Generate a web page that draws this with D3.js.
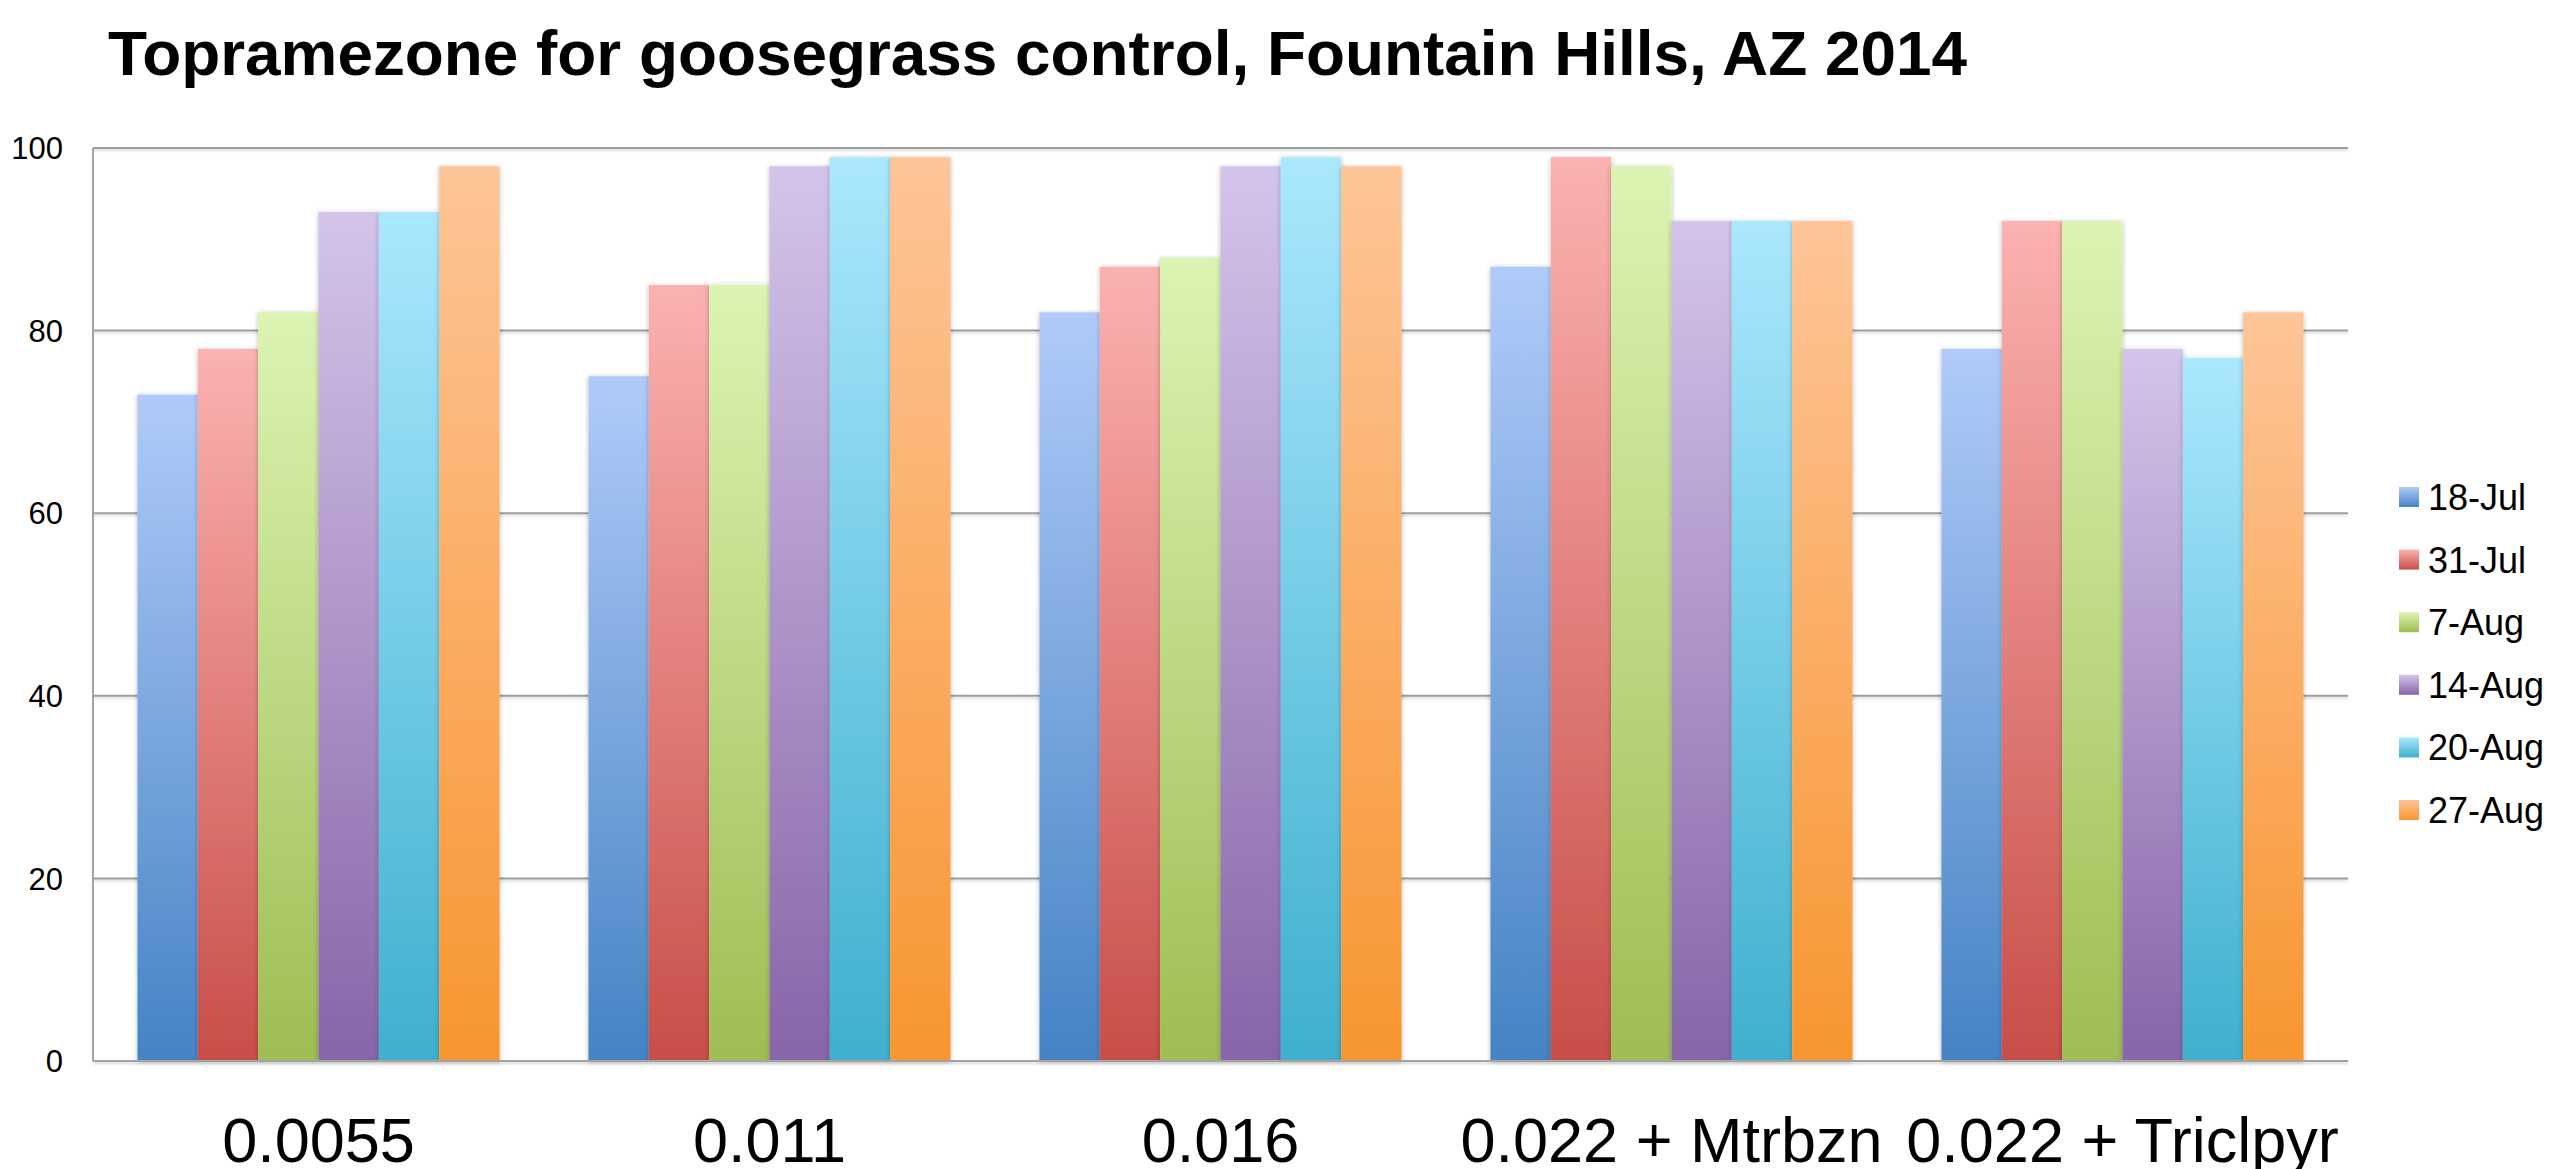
<!DOCTYPE html>
<html>
<head>
<meta charset="utf-8">
<script src="https://cdn.jsdelivr.net/npm/d3@7"></script>
<style>
  body { margin: 0; background: #fff; }
  svg { display: block; }
  text { font-family: "Liberation Sans", Arial, Helvetica, sans-serif; }
</style>
</head>
<body>
<svg width="2558" height="1169"></svg>
<script>
// data
var categories = ["0.0055", "0.011", "0.016", "0.022 + Mtrbzn", "0.022 + Triclpyr"];
var dates = ["18-Jul", "31-Jul", "7-Aug", "14-Aug", "20-Aug", "27-Aug"];
var v18Jul = [73, 75, 82, 87, 78];
var v31Jul = [78, 85, 87, 99, 92];
var v7Aug  = [82, 85, 88, 98, 92];
var v14Aug = [93, 98, 98, 92, 78];
var v20Aug = [93, 99, 99, 92, 77];
var v27Aug = [98, 99, 98, 92, 82];
var yTicks = [0, 20, 40, 60, 80, 100];

var series = [v18Jul, v31Jul, v7Aug, v14Aug, v20Aug, v27Aug];
// light top / dark bottom of each gradient
var colorsTop = ["#b0cbf9", "#fbb2b1", "#dcf4b3", "#d4c4ea", "#abe8fe", "#fec598"];
var colorsBot = ["#4583c4", "#c84e48", "#9fbd53", "#8765a8", "#3eb0ce", "#f79630"];

var svg = d3.select("svg"),
  width = +svg.attr("width"),
  height = +svg.attr("height");

// plot box ("top" is taken by window.top, so use other names)
var plotLeft = 93, plotRight = 2348, plotTop = 148, plotBottom = 1061;

var x0 = d3.scaleBand().domain(categories).range([plotLeft, plotRight]).padding(0);
var x1 = d3.scaleBand().domain(dates).range([0, x0.bandwidth()])
  .paddingInner(0).paddingOuter(0.737);
var y = d3.scaleLinear().domain([0, 100]).range([plotBottom, plotTop]);

var defs = svg.append("defs");
dates.forEach(function(d, i) {
  var g = defs.append("linearGradient")
    .attr("id", "grad" + i)
    .attr("x1", 0).attr("y1", 0).attr("x2", 0).attr("y2", 1);
  g.append("stop").attr("offset", "0%").attr("stop-color", colorsTop[i]);
  g.append("stop").attr("offset", "100%").attr("stop-color", colorsBot[i]);
});
// soft shadow like the original
defs.append("filter").attr("id", "shadow")
  .attr("x", "-20%").attr("y", "-5%").attr("width", "140%").attr("height", "110%")
  .append("feDropShadow")
  .attr("dx", 0).attr("dy", 1).attr("stdDeviation", 2.5)
  .attr("flood-color", "#000").attr("flood-opacity", 0.28);
defs.append("filter").attr("id", "lineshadow")
  .attr("filterUnits", "userSpaceOnUse")
  .attr("x", 0).attr("y", 0).attr("width", width).attr("height", height)
  .append("feDropShadow")
  .attr("dx", 0).attr("dy", 2).attr("stdDeviation", 1)
  .attr("flood-color", "#000").attr("flood-opacity", 0.15);

// title
svg.append("text")
  .attr("x", 108).attr("y", 75)
  .attr("font-size", 63).attr("font-weight", "bold")
  .attr("textLength", 1859).attr("lengthAdjust", "spacingAndGlyphs")
  .text("Topramezone for goosegrass control, Fountain Hills, AZ 2014");

// gridlines
var grid = svg.append("g").attr("class", "grid");
grid.selectAll("line")
  .data(yTicks)
  .enter().append("line")
  .attr("x1", plotLeft).attr("x2", plotRight)
  .attr("y1", function(d) { return y(d); })
  .attr("y2", function(d) { return y(d); })
  .attr("stroke", "#9e9e9e")
  .attr("stroke-width", 2)
  .attr("filter", "url(#lineshadow)");

// left axis line
svg.append("line")
  .attr("x1", plotLeft).attr("x2", plotLeft)
  .attr("y1", plotTop).attr("y2", plotBottom)
  .attr("stroke", "#a3a3a3").attr("stroke-width", 2);

// y tick labels
svg.append("g").selectAll("text")
  .data(yTicks)
  .enter().append("text")
  .attr("x", 63)
  .attr("y", function(d) { return y(d); })
  .attr("dy", "0.36em")
  .attr("text-anchor", "end")
  .attr("font-size", 31)
  .text(function(d) { return d; });

// bars
var groups = svg.append("g").selectAll("g")
  .data(categories)
  .enter().append("g")
  .attr("transform", function(d) { return "translate(" + x0(d) + ",0)"; });

groups.selectAll("rect")
  .data(function(d, ci) {
    return dates.map(function(dt, si) { return { date: dt, si: si, value: series[si][ci] }; });
  })
  .enter().append("rect")
  .attr("x", function(d) { return x1(d.date); })
  .attr("y", function(d) { return y(d.value); })
  .attr("width", x1.bandwidth())
  .attr("height", function(d) { return plotBottom - y(d.value); })
  .attr("fill", function(d) { return "url(#grad" + d.si + ")"; })
  .attr("filter", "url(#shadow)");

// baseline redrawn on top
svg.append("line")
  .attr("x1", plotLeft).attr("x2", plotRight)
  .attr("y1", plotBottom).attr("y2", plotBottom)
  .attr("stroke", "#a3a3a3").attr("stroke-width", 2);

// category labels
svg.append("g").selectAll("text")
  .data(categories)
  .enter().append("text")
  .attr("x", function(d) { return x0(d) + x0.bandwidth() / 2; })
  .attr("y", 1162)
  .attr("text-anchor", "middle")
  .attr("font-size", 63)
  .text(function(d) { return d; });

// legend
var legend = svg.append("g").selectAll("g")
  .data(dates)
  .enter().append("g")
  .attr("transform", function(d, i) { return "translate(2399," + (497 + i * 62.6) + ")"; });

legend.append("rect")
  .attr("x", 0).attr("y", -10)
  .attr("width", 20).attr("height", 20)
  .attr("fill", function(d, i) { return "url(#grad" + i + ")"; });

legend.append("text")
  .attr("x", 29).attr("y", 0)
  .attr("dy", "0.36em")
  .attr("font-size", 36)
  .text(function(d) { return d; });
</script>
</body>
</html>
